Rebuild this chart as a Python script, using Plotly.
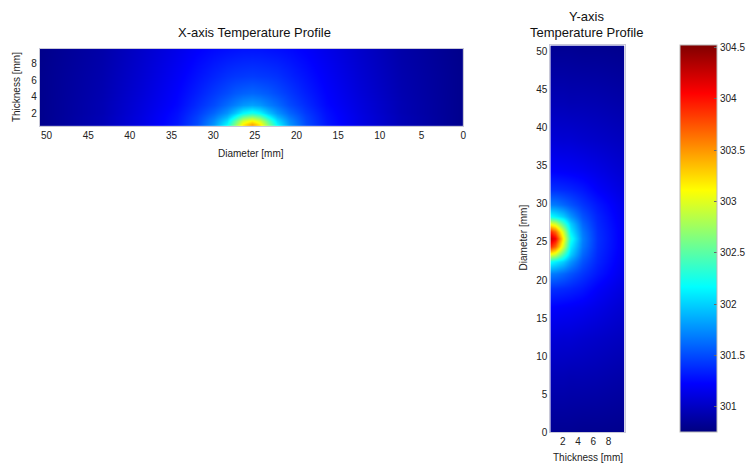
import plotly.graph_objects as go

# ---------------- data ----------------
# Left panel: X-axis temperature profile (diameter vs thickness), temperatures in K
left_offsets_mm = [0, 1, 2, 3, 4.5, 6.5, 9, 13, 18, 25.4]          # distance from hot spot centre along diameter
left_thickness_mm = [0.4, 1, 1.5, 2, 3, 4.5, 6.5, 9.8]
left_half_rows = [
    [303.55, 303.25, 302.70, 302.20, 301.80, 301.50, 301.30, 301.13, 300.95, 300.80],
    [303.15, 302.95, 302.50, 302.05, 301.74, 301.48, 301.29, 301.12, 300.95, 300.80],
    [302.70, 302.55, 302.20, 301.90, 301.67, 301.46, 301.28, 301.12, 300.95, 300.80],
    [302.25, 302.15, 301.95, 301.77, 301.60, 301.43, 301.27, 301.11, 300.94, 300.80],
    [301.82, 301.78, 301.70, 301.62, 301.50, 301.38, 301.24, 301.10, 300.94, 300.80],
    [301.60, 301.58, 301.55, 301.50, 301.43, 301.33, 301.22, 301.08, 300.93, 300.80],
    [301.44, 301.43, 301.42, 301.40, 301.35, 301.28, 301.19, 301.06, 300.92, 300.80],
    [301.29, 301.29, 301.28, 301.27, 301.25, 301.21, 301.14, 301.03, 300.90, 300.79],
]

# Right panel: Y-axis temperature profile (thickness vs diameter)
right_thickness_mm = [0, 1, 2, 3, 4.5, 6.5, 10]
right_offsets_mm = [0, 1, 2, 3, 4.5, 6.5, 9, 13, 18, 25.4]
right_half_rows = [
    [304.40, 304.05, 303.10, 302.25, 301.70, 301.40, 301.18],
    [304.05, 303.65, 302.90, 302.12, 301.67, 301.39, 301.18],
    [303.10, 302.90, 302.40, 301.98, 301.60, 301.37, 301.17],
    [302.25, 302.12, 301.98, 301.78, 301.53, 301.35, 301.16],
    [301.70, 301.67, 301.60, 301.53, 301.42, 301.30, 301.14],
    [301.40, 301.39, 301.37, 301.35, 301.30, 301.21, 301.10],
    [301.22, 301.21, 301.20, 301.19, 301.17, 301.13, 301.05],
    [301.07, 301.07, 301.06, 301.06, 301.04, 301.02, 300.98],
    [300.95, 300.95, 300.95, 300.94, 300.94, 300.93, 300.90],
    [300.82, 300.82, 300.82, 300.82, 300.81, 300.81, 300.80],
]

hot_spot_centre_mm = 25.4
diameter_mm = 50.8
colorbar_ticks = [301, 301.5, 302, 302.5, 303, 303.5, 304, 304.5]
temp_min, temp_max = 300.75, 304.52

# ---------------- build tables (mirror about the hot-spot centre) ----------------
left_x = [hot_spot_centre_mm - d for d in left_offsets_mm[::-1]] + \
         [hot_spot_centre_mm + d for d in left_offsets_mm[1:]]
left_z = [row[::-1] + row[1:] for row in left_half_rows]

right_y = [hot_spot_centre_mm - d for d in right_offsets_mm[::-1]] + \
          [hot_spot_centre_mm + d for d in right_offsets_mm[1:]]
right_z = right_half_rows[::-1] + right_half_rows[1:]

jet = [
    [0.0, "rgb(0,0,128)"],
    [0.125, "rgb(0,0,255)"],
    [0.375, "rgb(0,255,255)"],
    [0.625, "rgb(255,255,0)"],
    [0.875, "rgb(255,0,0)"],
    [1.0, "rgb(128,0,0)"],
]

FONT = "Liberation Sans, Arial, sans-serif"
OFF = 8                      # page body margin offset
W, H = 754 - OFF, 470 - OFF


def px(x):
    return (x - OFF) / W


def py(y):
    return 1 - (y - OFF) / H


fig = go.Figure()
fig.add_trace(go.Heatmap(
    x=left_x, y=left_thickness_mm, z=left_z,
    colorscale=jet, zmin=temp_min, zmax=temp_max, zsmooth="best",
    showscale=False, xaxis="x", yaxis="y", hoverinfo="skip",
))
fig.add_trace(go.Heatmap(
    x=right_thickness_mm, y=right_y, z=right_z,
    colorscale=jet, zmin=temp_min, zmax=temp_max, zsmooth="best",
    xaxis="x2", yaxis="y2", hoverinfo="skip",
    colorbar=dict(
        x=px(683), xanchor="left", xpad=0, ypad=0,
        y=py((46 + 437) / 2), yanchor="middle",
        len=(437 - 46) / H, lenmode="fraction",
        thickness=37, thicknessmode="pixels",
        tickvals=colorbar_ticks,
        ticktext=[f"{v:g}" for v in colorbar_ticks],
        ticks="inside", ticklen=3, tickcolor="#666",
        tickfont=dict(family=FONT, size=10, color="#222"),
        outlinewidth=1, outlinecolor="#bbb",
    ),
))

axis_common = dict(
    showgrid=False, zeroline=False, showline=True, linecolor="#c8c8d8",
    linewidth=1, mirror=True, ticks="",
    tickfont=dict(family=FONT, size=10, color="#222"),
)

fig.update_layout(
    width=W, height=H,
    margin=dict(l=0, r=0, t=0, b=0),
    paper_bgcolor="white", plot_bgcolor="white",
    showlegend=False,
    xaxis=dict(domain=[px(40), px(465)], range=[diameter_mm, 0],
               tickvals=[50, 45, 40, 35, 30, 25, 20, 15, 10, 5, 0],
               anchor="y", **axis_common),
    yaxis=dict(domain=[py(127.5), py(49.3)], range=[0.4, 9.8],
               tickvals=[2, 4, 6, 8], anchor="x", **axis_common),
    xaxis2=dict(domain=[px(552.5), px(627)], range=[0.35, 10.1],
                tickvals=[2, 4, 6, 8], anchor="y2", **axis_common),
    yaxis2=dict(domain=[py(437), py(45.8)], range=[0, diameter_mm],
                tickvals=[0, 5, 10, 15, 20, 25, 30, 35, 40, 45, 50],
                anchor="x2", **axis_common),
)

ann_font = dict(family=FONT, size=10, color="#222")
title_font = dict(family=FONT, size=13, color="#111")
annotations = [
    dict(text="X-axis Temperature Profile", x=px(255), y=py(33), font=title_font),
    dict(text="Y-axis", x=px(589), y=py(17), font=title_font),
    dict(text="Temperature Profile", x=px(589), y=py(33), font=title_font),
    dict(text="Diameter [mm]", x=px(252), y=py(155), font=ann_font),
    dict(text="Thickness [mm]", x=px(16), y=py(88), font=ann_font, textangle=-90),
    dict(text="Diameter [mm]", x=px(526), y=py(240), font=ann_font, textangle=-90),
    dict(text="Thickness [mm]", x=px(590), y=py(462), font=ann_font),
]
for a in annotations:
    a.update(xref="paper", yref="paper", showarrow=False,
             xanchor="center", yanchor="middle")
fig.update_layout(annotations=annotations)

fig.write_html("out.html")
